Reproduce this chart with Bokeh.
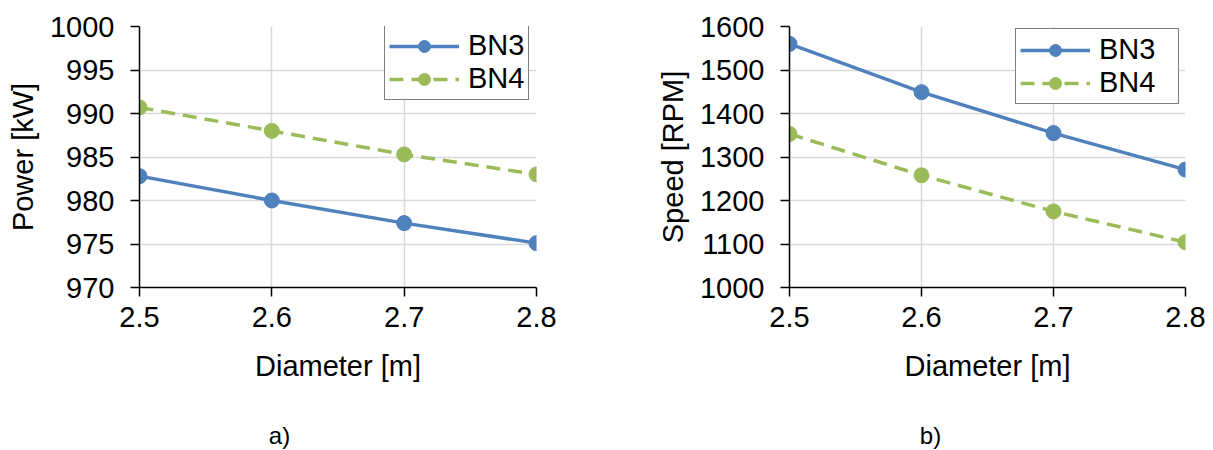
from bokeh.plotting import figure
from bokeh.layouts import row, column
from bokeh.models import (FixedTicker, NumeralTickFormatter, Legend, LegendItem,
                          Range1d, ColumnDataSource)
from bokeh.core.properties import value
from bokeh.embed import file_html
from bokeh.resources import INLINE

# ---------------- data ----------------
diameter = [2.5, 2.6, 2.7, 2.8]
power_bn3 = [982.8, 980.0, 977.4, 975.1]
power_bn4 = [990.7, 988.0, 985.3, 983.0]
speed_bn3 = [1560, 1449, 1355, 1271]
speed_bn4 = [1353, 1258, 1175, 1104]

x_ticks = [2.5, 2.6, 2.7, 2.8]
power_ticks = [970, 975, 980, 985, 990, 995, 1000]
speed_ticks = [1000, 1100, 1200, 1300, 1400, 1500, 1600]
series_names = ["BN3", "BN4"]
x_label = "Diameter [m]"
y_labels = ["Power [kW]", "Speed [RPM]"]
captions = ["a)", "b)"]

FONT = "Liberation Sans"
BLUE = "#4F81BD"
GREEN = "#9BBB59"
GRID = "#D9D9D9"
FS = "29px"
MAIN_H = 405
CAP_H = 45


def make_chart(y3, y4, yticks, ylabel, width, bl, br, label_width, leg_xy):
    p = figure(width=width, height=MAIN_H, output_backend="svg", toolbar_location=None,
               x_range=Range1d(x_ticks[0], x_ticks[-1]),
               y_range=Range1d(yticks[0], yticks[-1]),
               min_border_left=bl, min_border_right=br,
               min_border_top=26, min_border_bottom=MAIN_H - 287)
    p.outline_line_color = None
    p.background_fill_color = "white"
    p.border_fill_color = "white"

    src = ColumnDataSource(dict(x=diameter, a=y3, b=y4))
    l3 = p.line("x", "a", source=src, line_color=BLUE, line_width=3.5)
    m3 = p.scatter("x", "a", source=src, size=15, fill_color=BLUE, line_color=BLUE)
    l4 = p.line("x", "b", source=src, line_color=GREEN, line_width=3.5, line_dash="14 8")
    m4 = p.scatter("x", "b", source=src, size=15, fill_color=GREEN, line_color=GREEN)

    p.xaxis.ticker = FixedTicker(ticks=x_ticks)
    p.xaxis.formatter = NumeralTickFormatter(format="0.0")
    p.yaxis.ticker = FixedTicker(ticks=yticks)
    p.yaxis.formatter = NumeralTickFormatter(format="0")
    for ax in (p.xaxis, p.yaxis):
        ax.axis_line_color = "black"
        ax.axis_line_width = 1.5
        ax.major_tick_line_color = "black"
        ax.major_tick_line_width = 1.5
        ax.major_tick_out = 9
        ax.major_tick_in = 0
        ax.minor_tick_line_color = None
        ax.major_label_text_font = FONT
        ax.major_label_text_font_size = FS
        ax.major_label_text_color = "black"
        ax.axis_label_text_font = FONT
        ax.axis_label_text_font_size = FS
        ax.axis_label_text_font_style = "normal"
        ax.axis_label_text_color = "black"
    p.xaxis.axis_label = x_label
    p.yaxis.axis_label = ylabel
    p.xaxis.major_label_standoff = 10
    p.yaxis.major_label_standoff = 16
    p.xaxis.axis_label_standoff = 20
    p.yaxis.axis_label_standoff = 8

    p.xgrid.ticker = FixedTicker(ticks=x_ticks)
    p.ygrid.ticker = FixedTicker(ticks=yticks)
    p.grid.grid_line_color = GRID
    p.grid.grid_line_width = 1.5

    legend = Legend(items=[LegendItem(label=series_names[0], renderers=[l3, m3]),
                           LegendItem(label=series_names[1], renderers=[l4, m4])],
                    location=leg_xy, margin=0, padding=4, spacing=0,
                    glyph_width=70, glyph_height=30, label_height=30,
                    label_width=label_width, label_standoff=9,
                    label_text_font=FONT, label_text_font_size=FS,
                    label_text_line_height=1.1,
                    label_text_color="black",
                    border_line_color="black", border_line_width=1.5,
                    background_fill_color="white", background_fill_alpha=1.0)
    p.add_layout(legend, "center")
    return p


def make_caption(text, width, cx):
    c = figure(width=width, height=CAP_H, output_backend="svg", toolbar_location=None,
               x_range=Range1d(0, width), y_range=Range1d(0, CAP_H),
               x_axis_location=None, y_axis_location=None, min_border=0)
    c.outline_line_color = None
    c.grid.visible = False
    c.text(x=[cx], y=[15], text=[text], text_font=value(FONT),
           text_font_size="24px", text_color="black",
           text_align="center", text_baseline="alphabetic")
    return c


p1 = make_chart(power_bn3, power_bn4, power_ticks, y_labels[0], 606, 139, 70, 56, (245, 187))
p2 = make_chart(speed_bn3, speed_bn4, speed_ticks, y_labels[1], 607, 183, 28, 75, (226, 183))
c1 = make_caption(captions[0], 606, 279)
c2 = make_caption(captions[1], 607, 930 - 606)

layout = column(row(p1, p2), row(c1, c2), spacing=0)
open("out.html", "w").write(file_html(layout, INLINE))
